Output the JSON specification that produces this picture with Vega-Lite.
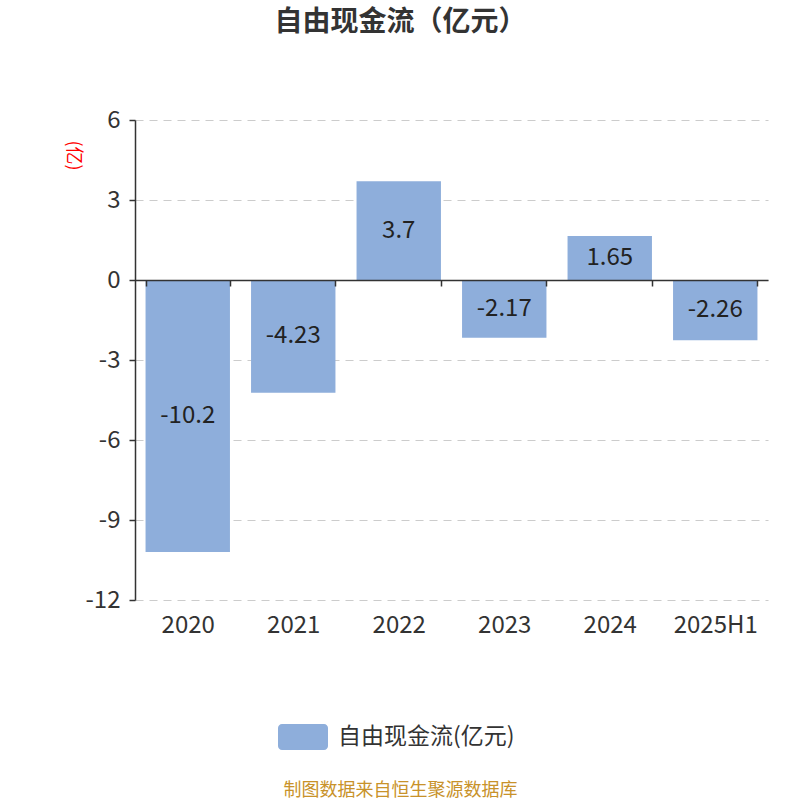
{
  "$schema": "https://vega.github.io/schema/vega-lite/v6.json",
  "width": 633,
  "height": 480,
  "autosize": "none",
  "padding": {"left": 135, "top": 120, "right": 32, "bottom": 200},
  "background": "white",
  "title": {
    "text": "自由现金流（亿元）",
    "fontSize": 28,
    "fontWeight": "bold",
    "color": "#333333",
    "font": "Noto Sans CJK SC",
    "anchor": "middle",
    "dx": -51,
    "offset": 71
  },
  "data": {
    "values": [
      {"year": "2020", "value": -10.2, "series": "自由现金流(亿元)"},
      {"year": "2021", "value": -4.23, "series": "自由现金流(亿元)"},
      {"year": "2022", "value": 3.7, "series": "自由现金流(亿元)"},
      {"year": "2023", "value": -2.17, "series": "自由现金流(亿元)"},
      {"year": "2024", "value": 1.65, "series": "自由现金流(亿元)"},
      {"year": "2025H1", "value": -2.26, "series": "自由现金流(亿元)"}
    ]
  },
  "config": {
    "view": {"stroke": null},
    "font": "Noto Sans CJK SC",
    "locale": {
      "number": {
        "decimal": ".",
        "thousands": ",",
        "grouping": [3],
        "currency": ["", ""],
        "minus": "-"
      }
    }
  },
  "encoding": {
    "x": {
      "field": "year",
      "type": "nominal",
      "sort": null,
      "scale": {"paddingInner": 0.2, "paddingOuter": 0.1},
      "axis": {
        "offset": -320,
        "zindex": 1,
        "domain": true,
        "domainColor": "#333333",
        "domainWidth": 1.5,
        "ticks": true,
        "tickBand": "extent",
        "tickColor": "#333333",
        "tickWidth": 1.5,
        "tickSize": 6,
        "labelAngle": 0,
        "labelFontSize": 24,
        "labelColor": "#333333",
        "labelPadding": 327,
        "grid": false,
        "title": "制图数据来自恒生聚源数据库",
        "titleColor": "#c8922a",
        "titleFontSize": 18,
        "titleFontWeight": "normal",
        "titleX": 265,
        "titleY": 510,
        "titleAlign": "center",
        "titleBaseline": "middle"
      }
    }
  },
  "layer": [
    {
      "mark": {"type": "bar", "color": "#8eaedb"},
      "encoding": {
        "y": {
          "field": "value",
          "type": "quantitative",
          "scale": {"domain": [-12, 6], "nice": false},
          "axis": {
            "values": [-12, -9, -6, -3, 0, 3, 6],
            "domainColor": "#333333",
            "domainWidth": 1.5,
            "tickColor": "#333333",
            "tickWidth": 1.5,
            "tickSize": 6,
            "labelFontSize": 24,
            "labelColor": "#333333",
            "labelPadding": 9,
            "gridColor": "#cccccc",
            "gridDash": [8, 6],
            "gridWidth": 1.2,
            "title": "(亿)",
            "titleColor": "#ff0000",
            "titleFontSize": 18,
            "titleFontWeight": "normal",
            "titleAngle": 90,
            "titleX": -63,
            "titleY": 35,
            "titleAlign": "center",
            "titleBaseline": "middle"
          }
        },
        "color": {
          "field": "series",
          "type": "nominal",
          "scale": {"range": ["#8eaedb"]},
          "legend": {
            "orient": "none",
            "legendX": 143,
            "legendY": 592,
            "title": null,
            "padding": 0,
            "symbolType": "M-0.84,-0.52H0.84A0.16,0.16 0 0 1 1,-0.36V0.36A0.16,0.16 0 0 1 0.84,0.52H-0.84A0.16,0.16 0 0 1 -1,0.36V-0.36A0.16,0.16 0 0 1 -0.84,-0.52Z",
            "symbolSize": 2500,
            "symbolStrokeWidth": 0,
            "symbolOpacity": 1,
            "labelFontSize": 23,
            "labelLimit": 400,
            "labelColor": "#333333",
            "labelOffset": 10
          }
        }
      }
    },
    {
      "transform": [{"calculate": "datum.value / 2", "as": "mid"}],
      "mark": {"type": "text", "fontSize": 24, "color": "#222222"},
      "encoding": {
        "y": {"field": "mid", "type": "quantitative"},
        "text": {"field": "value", "type": "quantitative", "format": ""}
      }
    }
  ]
}
